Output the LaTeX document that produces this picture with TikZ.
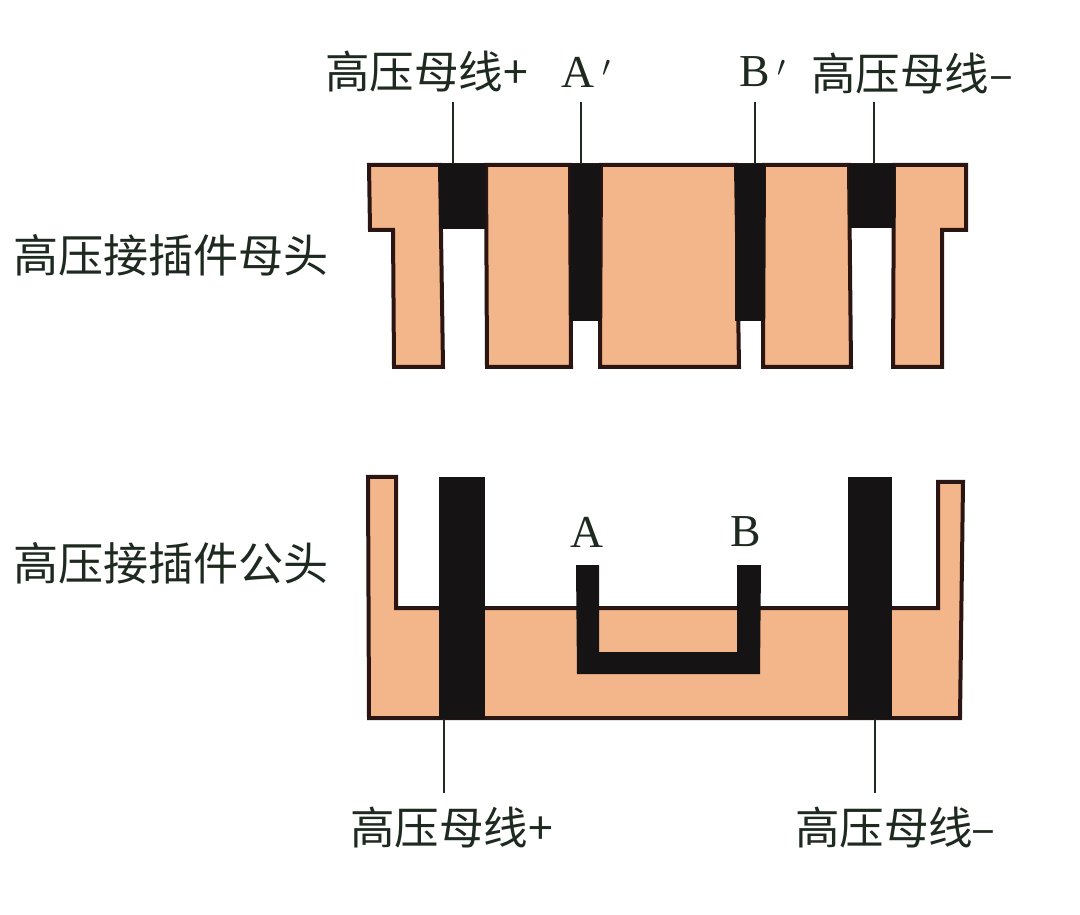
\documentclass[tikz,border=0pt]{standalone}
\usepackage{fontspec}
\newfontfamily\cjk{Noto Sans CJK SC}
\newfontfamily\pinfont{Liberation Serif}
\definecolor{copperfill}{HTML}{F3B58A}
\definecolor{copperline}{HTML}{2B1512}
\definecolor{barblack}{HTML}{151314}
\definecolor{labelink}{HTML}{1E2A20}
\tikzset{
	copper/.style={draw=copperline, fill=copperfill, line width=1.2mm, line join=miter},
	busbar/.style={fill=barblack},
	leader/.style={draw=labelink, line width=0.55mm},
	cnlabel/.style={inner sep=0pt, anchor=west, text=labelink, font=\cjk\fontsize{38}{44}\selectfont},
	titlelabel/.style={cnlabel, font=\cjk\fontsize{38.5}{44}\selectfont},
	pinlabel/.style={inner sep=0pt, text=labelink, font=\pinfont\fontsize{39}{44}\selectfont}
}
\begin{document}
\begin{tikzpicture}[x=0.3mm, y=-0.3mm]
	\useasboundingbox (0,0) rectangle (1080,915);

	% socket, upper half
	\draw[copper] (369,165) -- (440,165) -- (443,367) -- (394,367) -- (393,230) -- (370,230) -- cycle;
	\draw[copper] (486,165) -- (570,165) -- (571,367) -- (487,367) -- cycle;
	\draw[copper] (601,165) -- (736,165) -- (739,367) -- (600,367) -- cycle;
	\draw[copper] (764,165) -- (849,165) -- (851,367) -- (763,367) -- cycle;
	\draw[copper] (894,165) -- (966,165) -- (966,230) -- (942,230) -- (942,367) -- (893,367) -- cycle;
	\draw[copperline, line width=1.2mm] (369,165) -- (966,165);
	\fill[busbar] (439,164) rectangle (486,229);
	\fill[busbar] (570,164) rectangle (601,321);
	\fill[busbar] (735,164) rectangle (765,321);
	\fill[busbar] (849,164) rectangle (895,228);

	% plug, lower half
	\draw[copper] (368,477) -- (396,477) -- (396,608) -- (938,608) -- (938,482) -- (963,482) -- (960,718) -- (369,718) -- cycle;
	\fill[busbar] (439,477) rectangle (485,719);
	\fill[busbar] (848,477) rectangle (892,719);
	\fill[busbar] (576,565) -- (599,565) -- (599,652) -- (737,652) -- (737,565) -- (761,565) -- (760,674) -- (577,674) -- cycle;

	% leader ends
	\coordinate (socketplus top) at (453,102);
	\coordinate (socketplus end) at (453,164);
	\coordinate (socketa top) at (581,102);
	\coordinate (socketa end) at (581,164);
	\coordinate (socketb top) at (755,102);
	\coordinate (socketb end) at (755,164);
	\coordinate (socketminus top) at (874,102);
	\coordinate (socketminus end) at (874,164);
	\coordinate (plugplus top) at (444,719);
	\coordinate (plugplus end) at (444,793);
	\coordinate (plugminus top) at (875,719);
	\coordinate (plugminus end) at (875,793);

	\draw[leader] (socketplus top) -- (socketplus end);
	\draw[leader] (socketa top) -- (socketa end);
	\draw[leader] (socketb top) -- (socketb end);
	\draw[leader] (socketminus top) -- (socketminus end);
	\draw[leader] (plugplus top) -- (plugplus end);
	\draw[leader] (plugminus top) -- (plugminus end);

	% labels
	\node[cnlabel] (socketplus) at (325,72) {高压母线+};
	\node[pinlabel] (socketa) at (586,72) {A\,$'$};
	\node[pinlabel] (socketb) at (763,72) {B\,$'$};
	\node[cnlabel] (socketminus) at (811,74) {高压母线–};
	\node[titlelabel] (sockettitle) at (13,255) {高压接插件母头};
	\node[titlelabel] (plugtitle) at (13,563) {高压接插件公头};
	\node[pinlabel] (pluga) at (587,532) {A};
	\node[pinlabel] (plugb) at (746,532) {B};
	\node[cnlabel] (plugplus) at (350,828) {高压母线+};
	\node[cnlabel] (plugminus) at (795,828) {高压母线\kern-2pt–};
\end{tikzpicture}
\end{document}
